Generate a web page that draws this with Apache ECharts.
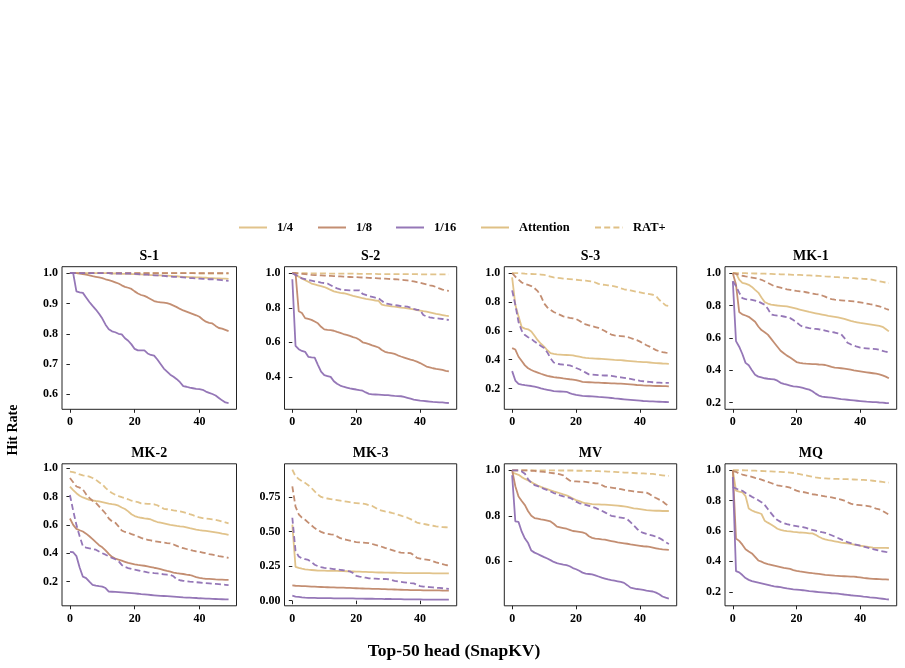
<!DOCTYPE html>
<html><head><meta charset="utf-8">
<script src="https://cdn.jsdelivr.net/npm/echarts@6/dist/echarts.min.js"></script>
<style>html,body{margin:0;padding:0;background:#fff}#c{width:905px;height:668px}</style>
</head><body><div id="c"></div>
<script>
// ---------- data ----------
const xValues = [0,1,2,3,4,5,6,7,8,9,10,11,12,13,14,15,16,17,18,19,20,21,22,23,24,25,26,27,28,29,30,31,32,33,34,35,36,37,38,39,40,41,42,43,44,45,46,47,48,49];
const panelTitles = ['S-1','S-2','S-3','MK-1','MK-2','MK-3','MV','MQ'];
const ratioNames = ['1/4','1/8','1/16'];
const methodNames = ['Attention','RAT+'];
const xTickLabels = [0,20,40];

// S-1
const s1_q_att = [1,1,1,1,1,1,1,1,1,1,1,1,1,0.999,0.999,0.999,0.998,0.998,0.998,0.997,0.997,0.996,0.996,0.995,0.995,0.994,0.994,0.993,0.993,0.992,0.992,0.991,0.990,0.990,0.989,0.988,0.988,0.987,0.987,0.986,0.986,0.985,0.985,0.984,0.984,0.983,0.983,0.982,0.982,0.981];
const s1_q_rat = [1,1,1,1,1,1,1,1,1,1,1,1,1,1,1,1,1,1,1,1,1,1,1,1,1,1,1,1,1,1,1,1,1,1,1,1,1,1,1,0.999,0.999,0.999,0.999,0.999,0.999,0.999,0.999,0.999,0.999,0.999];
const s1_e_att = [1,1,1,0.999,0.997,0.995,0.993,0.990,0.988,0.986,0.984,0.980,0.977,0.974,0.970,0.966,0.960,0.955,0.952,0.948,0.940,0.933,0.928,0.925,0.920,0.914,0.908,0.905,0.904,0.903,0.901,0.898,0.893,0.888,0.882,0.877,0.873,0.869,0.865,0.861,0.856,0.847,0.840,0.836,0.834,0.826,0.819,0.817,0.813,0.809];
const s1_e_rat = [1,1,1,1,1,1,1,1,1,1,1,1,1,1,1,1,1,1,1,1,1,1,1,1,1,1,1,1,1,1,1,1,1,1,1,1,1,1,1,1,1,1,1,1,1,1,1,1,1,1];
const s1_s_att = [1,1,0.94,0.937,0.935,0.92,0.905,0.892,0.88,0.866,0.85,0.83,0.815,0.808,0.805,0.80,0.798,0.785,0.777,0.765,0.75,0.745,0.745,0.745,0.735,0.73,0.728,0.715,0.70,0.685,0.675,0.665,0.658,0.65,0.64,0.627,0.625,0.622,0.62,0.618,0.617,0.615,0.609,0.605,0.601,0.596,0.588,0.58,0.573,0.571];
const s1_s_rat = [1,1,1,1,1,1,1,1,1,1,1,1,1,0.999,0.999,0.999,0.999,0.999,0.999,0.999,0.998,0.997,0.996,0.995,0.995,0.994,0.993,0.993,0.992,0.991,0.990,0.989,0.988,0.988,0.987,0.986,0.985,0.984,0.984,0.983,0.982,0.981,0.981,0.980,0.980,0.979,0.978,0.977,0.976,0.975];

// S-2
const s2_q_att = [1.0,0.99,0.98,0.97,0.96,0.95,0.94,0.935,0.93,0.925,0.92,0.912,0.903,0.895,0.89,0.886,0.884,0.88,0.874,0.869,0.865,0.86,0.855,0.851,0.848,0.845,0.842,0.84,0.818,0.814,0.811,0.808,0.806,0.804,0.801,0.799,0.796,0.793,0.79,0.787,0.784,0.78,0.777,0.773,0.769,0.765,0.762,0.758,0.754,0.752];
const s2_q_rat = [1,1,1,1,1,1,0.999,0.999,0.999,0.999,0.999,0.998,0.998,0.998,0.998,0.998,0.997,0.997,0.997,0.997,0.997,0.996,0.996,0.996,0.996,0.996,0.996,0.995,0.995,0.995,0.995,0.995,0.995,0.994,0.994,0.994,0.994,0.994,0.994,0.994,0.993,0.993,0.993,0.993,0.993,0.993,0.993,0.993,0.993,0.993];
const s2_e_att = [1.0,1.0,0.78,0.77,0.74,0.735,0.73,0.72,0.71,0.69,0.675,0.672,0.67,0.667,0.66,0.655,0.648,0.643,0.637,0.63,0.625,0.615,0.6,0.595,0.59,0.582,0.576,0.57,0.556,0.545,0.54,0.537,0.533,0.525,0.518,0.512,0.506,0.5,0.495,0.488,0.48,0.47,0.46,0.455,0.45,0.446,0.444,0.44,0.435,0.432];
const s2_e_rat = [1,1,0.998,0.996,0.994,0.992,0.99,0.989,0.988,0.987,0.986,0.985,0.984,0.983,0.982,0.981,0.98,0.979,0.978,0.977,0.977,0.976,0.975,0.974,0.973,0.972,0.971,0.97,0.969,0.968,0.967,0.966,0.965,0.964,0.962,0.96,0.958,0.955,0.952,0.948,0.944,0.94,0.935,0.93,0.926,0.92,0.912,0.905,0.9,0.898];
const s2_s_att = [0.965,0.58,0.56,0.55,0.545,0.516,0.513,0.512,0.47,0.43,0.41,0.405,0.4,0.375,0.36,0.35,0.343,0.338,0.333,0.33,0.327,0.323,0.32,0.31,0.302,0.299,0.298,0.297,0.296,0.295,0.294,0.292,0.29,0.289,0.288,0.284,0.279,0.274,0.269,0.266,0.263,0.261,0.259,0.257,0.255,0.254,0.253,0.252,0.25,0.249];
const s2_s_rat = [1.0,0.99,0.98,0.97,0.965,0.96,0.957,0.953,0.95,0.946,0.943,0.94,0.93,0.92,0.912,0.906,0.903,0.902,0.901,0.90,0.90,0.9,0.88,0.874,0.868,0.863,0.858,0.855,0.84,0.826,0.822,0.818,0.816,0.813,0.81,0.808,0.806,0.80,0.793,0.788,0.787,0.758,0.75,0.745,0.741,0.739,0.737,0.735,0.731,0.73];

// S-3
const s3_q_att = [0.97,0.78,0.7,0.625,0.615,0.61,0.595,0.565,0.535,0.51,0.49,0.465,0.445,0.44,0.437,0.435,0.433,0.432,0.431,0.43,0.425,0.42,0.415,0.412,0.41,0.409,0.407,0.406,0.405,0.404,0.402,0.4,0.398,0.397,0.396,0.394,0.392,0.39,0.388,0.386,0.385,0.383,0.382,0.38,0.378,0.376,0.375,0.373,0.372,0.37];
const s3_q_rat = [1.0,1.0,1.0,0.998,0.996,0.995,0.994,0.993,0.992,0.99,0.988,0.982,0.976,0.97,0.967,0.965,0.962,0.96,0.958,0.956,0.954,0.952,0.95,0.948,0.945,0.942,0.935,0.925,0.92,0.918,0.915,0.912,0.908,0.903,0.895,0.888,0.884,0.88,0.875,0.87,0.866,0.862,0.858,0.854,0.85,0.84,0.815,0.795,0.776,0.772];
const s3_e_att = [0.48,0.47,0.42,0.39,0.36,0.34,0.328,0.318,0.31,0.302,0.295,0.288,0.283,0.279,0.276,0.274,0.27,0.267,0.264,0.262,0.258,0.252,0.246,0.244,0.243,0.242,0.241,0.24,0.239,0.238,0.237,0.236,0.235,0.234,0.233,0.232,0.23,0.228,0.226,0.224,0.223,0.221,0.22,0.219,0.218,0.217,0.217,0.216,0.216,0.215];
const s3_e_rat = [1.0,0.975,0.955,0.935,0.925,0.918,0.91,0.895,0.875,0.84,0.79,0.762,0.745,0.73,0.72,0.71,0.7,0.695,0.69,0.686,0.682,0.67,0.655,0.644,0.638,0.632,0.626,0.62,0.61,0.598,0.585,0.574,0.568,0.565,0.563,0.561,0.557,0.55,0.542,0.535,0.525,0.512,0.5,0.49,0.478,0.466,0.458,0.452,0.448,0.447];
const s3_s_att = [0.32,0.255,0.232,0.227,0.223,0.22,0.217,0.212,0.207,0.2,0.195,0.191,0.187,0.182,0.18,0.179,0.178,0.177,0.168,0.16,0.155,0.152,0.149,0.147,0.146,0.145,0.143,0.141,0.14,0.138,0.136,0.134,0.131,0.129,0.127,0.125,0.123,0.121,0.119,0.117,0.115,0.113,0.112,0.111,0.11,0.109,0.108,0.107,0.106,0.105];
const s3_s_rat = [0.88,0.78,0.66,0.6,0.57,0.555,0.545,0.525,0.51,0.495,0.48,0.45,0.41,0.38,0.372,0.368,0.365,0.362,0.36,0.352,0.342,0.333,0.322,0.31,0.298,0.296,0.294,0.292,0.291,0.29,0.29,0.288,0.284,0.28,0.277,0.274,0.27,0.266,0.262,0.257,0.253,0.25,0.247,0.245,0.243,0.241,0.24,0.239,0.239,0.239];

// MK-1
const mk1_q_att = [1.0,1.0,0.96,0.94,0.935,0.928,0.915,0.897,0.88,0.85,0.822,0.812,0.805,0.803,0.8,0.798,0.796,0.794,0.79,0.785,0.78,0.775,0.77,0.765,0.76,0.756,0.752,0.748,0.744,0.74,0.736,0.733,0.73,0.726,0.722,0.717,0.711,0.705,0.7,0.696,0.692,0.689,0.686,0.683,0.68,0.677,0.674,0.668,0.655,0.64];
const mk1_q_rat = [1,1,1,1,1,0.999,0.999,0.998,0.998,0.997,0.997,0.996,0.995,0.994,0.994,0.993,0.993,0.992,0.991,0.99,0.99,0.989,0.988,0.987,0.986,0.985,0.984,0.983,0.982,0.98,0.979,0.978,0.976,0.975,0.973,0.972,0.971,0.97,0.969,0.967,0.966,0.965,0.964,0.962,0.958,0.954,0.95,0.946,0.942,0.938];
const mk1_e_att = [1.0,0.93,0.76,0.745,0.738,0.73,0.715,0.7,0.67,0.648,0.635,0.62,0.595,0.57,0.545,0.52,0.505,0.49,0.478,0.465,0.45,0.445,0.442,0.44,0.439,0.438,0.437,0.435,0.434,0.432,0.426,0.42,0.416,0.414,0.412,0.41,0.407,0.403,0.399,0.396,0.393,0.39,0.387,0.384,0.381,0.378,0.374,0.368,0.36,0.35];
const mk1_e_rat = [1.0,0.995,0.99,0.984,0.98,0.977,0.973,0.969,0.965,0.959,0.95,0.94,0.93,0.92,0.915,0.91,0.905,0.9,0.897,0.894,0.89,0.888,0.886,0.882,0.878,0.874,0.87,0.868,0.862,0.855,0.845,0.839,0.836,0.834,0.832,0.83,0.829,0.827,0.825,0.822,0.819,0.816,0.812,0.808,0.805,0.8,0.795,0.788,0.78,0.773];
const mk1_s_att = [0.95,0.58,0.545,0.5,0.445,0.43,0.4,0.372,0.36,0.355,0.35,0.347,0.345,0.343,0.335,0.322,0.315,0.31,0.305,0.3,0.298,0.295,0.29,0.285,0.28,0.27,0.255,0.243,0.237,0.234,0.232,0.23,0.227,0.224,0.221,0.219,0.217,0.215,0.213,0.211,0.209,0.207,0.205,0.204,0.203,0.202,0.2,0.199,0.197,0.196];
const mk1_s_rat = [0.95,0.92,0.88,0.845,0.84,0.837,0.835,0.83,0.825,0.815,0.805,0.78,0.745,0.74,0.738,0.736,0.732,0.728,0.722,0.71,0.695,0.68,0.668,0.664,0.66,0.657,0.655,0.653,0.65,0.645,0.64,0.636,0.633,0.628,0.623,0.6,0.57,0.56,0.552,0.545,0.54,0.537,0.535,0.533,0.532,0.53,0.526,0.52,0.514,0.509];

// MK-2
const mk2_q_att = [0.87,0.845,0.823,0.805,0.793,0.785,0.776,0.772,0.768,0.765,0.76,0.755,0.75,0.746,0.743,0.735,0.722,0.712,0.695,0.675,0.662,0.655,0.65,0.646,0.643,0.638,0.628,0.62,0.615,0.61,0.605,0.6,0.597,0.593,0.59,0.588,0.583,0.577,0.572,0.567,0.563,0.56,0.557,0.554,0.551,0.547,0.543,0.538,0.534,0.529];
const mk2_q_rat = [0.975,0.972,0.965,0.955,0.948,0.945,0.94,0.93,0.918,0.9,0.885,0.86,0.84,0.825,0.812,0.803,0.795,0.788,0.78,0.77,0.765,0.76,0.752,0.749,0.748,0.747,0.745,0.738,0.725,0.713,0.71,0.706,0.702,0.699,0.695,0.69,0.683,0.675,0.668,0.66,0.652,0.647,0.645,0.642,0.638,0.635,0.63,0.623,0.617,0.61];
const mk2_e_att = [0.645,0.6,0.572,0.562,0.553,0.538,0.52,0.5,0.478,0.457,0.442,0.42,0.395,0.375,0.363,0.355,0.348,0.34,0.332,0.327,0.322,0.318,0.315,0.312,0.308,0.303,0.298,0.294,0.288,0.282,0.276,0.271,0.264,0.26,0.257,0.254,0.25,0.247,0.24,0.232,0.227,0.223,0.22,0.219,0.218,0.216,0.215,0.214,0.213,0.212];
const mk2_e_rat = [0.93,0.9,0.87,0.862,0.85,0.815,0.79,0.77,0.755,0.73,0.705,0.68,0.645,0.625,0.615,0.59,0.56,0.55,0.545,0.535,0.528,0.518,0.508,0.5,0.495,0.49,0.485,0.482,0.478,0.475,0.472,0.47,0.462,0.452,0.442,0.436,0.43,0.424,0.418,0.413,0.41,0.405,0.4,0.394,0.39,0.385,0.38,0.376,0.372,0.368];
const mk2_s_att = [0.41,0.407,0.38,0.3,0.235,0.225,0.2,0.178,0.172,0.168,0.165,0.155,0.13,0.129,0.128,0.127,0.125,0.123,0.121,0.119,0.117,0.115,0.112,0.11,0.108,0.106,0.104,0.102,0.1,0.099,0.098,0.097,0.095,0.093,0.091,0.089,0.088,0.087,0.086,0.085,0.083,0.082,0.081,0.08,0.079,0.078,0.077,0.076,0.075,0.075];
const mk2_s_rat = [0.81,0.7,0.6,0.52,0.45,0.44,0.435,0.43,0.425,0.412,0.4,0.39,0.378,0.367,0.358,0.345,0.318,0.303,0.296,0.29,0.285,0.28,0.274,0.27,0.266,0.263,0.26,0.258,0.255,0.252,0.249,0.247,0.238,0.215,0.21,0.206,0.203,0.2,0.198,0.196,0.194,0.192,0.19,0.188,0.186,0.184,0.182,0.18,0.178,0.176];

// MK-3
const mk3_q_att = [0.55,0.245,0.238,0.232,0.227,0.224,0.222,0.22,0.218,0.217,0.217,0.216,0.216,0.215,0.215,0.214,0.214,0.213,0.212,0.211,0.21,0.21,0.209,0.208,0.207,0.206,0.205,0.204,0.204,0.203,0.203,0.202,0.202,0.201,0.201,0.2,0.2,0.2,0.2,0.2,0.199,0.199,0.199,0.199,0.198,0.198,0.198,0.198,0.198,0.198];
const mk3_q_rat = [0.948,0.9,0.88,0.865,0.852,0.835,0.815,0.79,0.767,0.75,0.743,0.739,0.735,0.731,0.728,0.724,0.72,0.716,0.712,0.708,0.706,0.704,0.702,0.698,0.69,0.685,0.672,0.658,0.652,0.646,0.641,0.636,0.63,0.623,0.615,0.607,0.6,0.59,0.578,0.565,0.56,0.556,0.551,0.546,0.542,0.538,0.535,0.532,0.531,0.53];
const mk3_e_att = [0.11,0.108,0.107,0.106,0.105,0.104,0.102,0.101,0.1,0.099,0.098,0.097,0.096,0.096,0.095,0.094,0.094,0.093,0.092,0.091,0.09,0.089,0.088,0.087,0.087,0.086,0.085,0.085,0.084,0.083,0.082,0.082,0.081,0.08,0.079,0.078,0.078,0.077,0.077,0.076,0.076,0.075,0.075,0.075,0.074,0.074,0.074,0.073,0.073,0.073];
const mk3_e_rat = [0.827,0.68,0.625,0.6,0.585,0.565,0.545,0.525,0.51,0.498,0.489,0.484,0.48,0.477,0.465,0.452,0.445,0.44,0.435,0.428,0.424,0.422,0.42,0.418,0.416,0.41,0.403,0.397,0.39,0.382,0.375,0.368,0.36,0.353,0.348,0.346,0.345,0.344,0.33,0.31,0.305,0.3,0.297,0.294,0.285,0.277,0.271,0.265,0.258,0.254];
const mk3_s_att = [0.036,0.03,0.027,0.024,0.022,0.021,0.02,0.02,0.019,0.019,0.018,0.018,0.018,0.017,0.017,0.017,0.017,0.016,0.016,0.016,0.015,0.015,0.015,0.014,0.014,0.014,0.013,0.013,0.013,0.012,0.012,0.012,0.011,0.011,0.011,0.01,0.01,0.01,0.009,0.009,0.009,0.008,0.008,0.008,0.008,0.007,0.007,0.007,0.007,0.007];
const mk3_s_rat = [0.6,0.36,0.32,0.305,0.3,0.295,0.28,0.26,0.25,0.243,0.238,0.235,0.232,0.229,0.226,0.223,0.22,0.216,0.212,0.2,0.18,0.174,0.17,0.166,0.162,0.16,0.159,0.158,0.157,0.157,0.155,0.15,0.143,0.139,0.136,0.133,0.13,0.127,0.125,0.115,0.105,0.102,0.1,0.098,0.096,0.094,0.092,0.09,0.087,0.085];

// MV
const mv_q_att = [0.99,0.985,0.98,0.97,0.962,0.955,0.948,0.94,0.933,0.927,0.922,0.917,0.912,0.907,0.903,0.899,0.894,0.89,0.883,0.876,0.869,0.864,0.859,0.855,0.853,0.851,0.85,0.85,0.849,0.849,0.848,0.847,0.846,0.845,0.843,0.841,0.839,0.836,0.833,0.831,0.829,0.827,0.825,0.824,0.823,0.822,0.822,0.821,0.821,0.821];
const mv_q_rat = [1,1,1,1,1,1,1,1,1,1,1,1,1,1,1,0.999,0.999,0.999,0.999,0.999,0.998,0.998,0.998,0.997,0.997,0.997,0.996,0.996,0.995,0.995,0.994,0.994,0.993,0.992,0.991,0.99,0.99,0.989,0.988,0.987,0.987,0.986,0.985,0.984,0.984,0.982,0.98,0.978,0.976,0.975];
const mv_e_att = [1.0,0.93,0.885,0.865,0.847,0.82,0.8,0.79,0.787,0.784,0.782,0.779,0.775,0.765,0.752,0.749,0.746,0.743,0.738,0.733,0.731,0.729,0.727,0.722,0.71,0.703,0.7,0.698,0.696,0.695,0.692,0.689,0.686,0.683,0.681,0.679,0.677,0.674,0.672,0.67,0.668,0.666,0.665,0.663,0.66,0.657,0.654,0.652,0.651,0.65];
const mv_e_rat = [1,1,1,1,1,0.999,0.998,0.997,0.995,0.994,0.993,0.991,0.989,0.987,0.985,0.982,0.978,0.965,0.955,0.952,0.951,0.95,0.95,0.949,0.947,0.945,0.943,0.942,0.935,0.928,0.926,0.924,0.922,0.92,0.917,0.914,0.911,0.909,0.907,0.905,0.904,0.903,0.902,0.895,0.885,0.878,0.871,0.864,0.852,0.843];
const mv_s_att = [0.978,0.775,0.773,0.73,0.7,0.68,0.647,0.638,0.632,0.625,0.618,0.612,0.605,0.597,0.592,0.588,0.585,0.583,0.578,0.57,0.565,0.558,0.55,0.546,0.544,0.542,0.538,0.533,0.528,0.524,0.52,0.517,0.515,0.512,0.509,0.505,0.495,0.484,0.481,0.478,0.476,0.474,0.471,0.469,0.467,0.462,0.455,0.445,0.44,0.436];
const mv_s_rat = [1.0,1.0,1.0,0.995,0.985,0.96,0.945,0.935,0.93,0.925,0.918,0.913,0.907,0.9,0.896,0.89,0.885,0.882,0.879,0.872,0.862,0.855,0.852,0.848,0.844,0.84,0.835,0.828,0.822,0.815,0.807,0.8,0.797,0.794,0.792,0.79,0.785,0.772,0.758,0.743,0.73,0.725,0.72,0.716,0.713,0.708,0.702,0.694,0.684,0.676];

// MQ
const mq_q_att = [1.0,0.866,0.86,0.855,0.83,0.748,0.735,0.726,0.72,0.712,0.668,0.655,0.643,0.63,0.615,0.607,0.602,0.599,0.597,0.594,0.592,0.59,0.589,0.587,0.585,0.584,0.575,0.562,0.552,0.545,0.54,0.536,0.532,0.528,0.524,0.521,0.518,0.515,0.511,0.507,0.503,0.5,0.497,0.494,0.491,0.489,0.489,0.489,0.489,0.488];
const mq_q_rat = [1,1,1,1,0.999,0.999,0.998,0.997,0.996,0.995,0.994,0.993,0.992,0.991,0.99,0.989,0.988,0.987,0.985,0.982,0.978,0.974,0.97,0.966,0.962,0.957,0.953,0.95,0.947,0.946,0.945,0.944,0.943,0.943,0.942,0.941,0.941,0.94,0.939,0.938,0.937,0.936,0.935,0.933,0.931,0.929,0.926,0.923,0.92,0.919];
const mq_e_att = [1.0,0.55,0.535,0.51,0.48,0.465,0.452,0.43,0.406,0.398,0.388,0.382,0.377,0.372,0.367,0.362,0.357,0.354,0.35,0.343,0.338,0.334,0.331,0.328,0.325,0.322,0.32,0.317,0.314,0.311,0.31,0.308,0.306,0.305,0.303,0.302,0.301,0.3,0.299,0.297,0.294,0.291,0.289,0.287,0.285,0.284,0.283,0.282,0.281,0.28];
const mq_e_rat = [0.995,0.99,0.978,0.972,0.967,0.963,0.957,0.95,0.945,0.938,0.93,0.923,0.916,0.908,0.901,0.897,0.894,0.89,0.885,0.875,0.866,0.86,0.857,0.852,0.847,0.842,0.839,0.835,0.832,0.828,0.825,0.821,0.816,0.811,0.807,0.8,0.79,0.78,0.774,0.772,0.77,0.768,0.766,0.762,0.755,0.747,0.742,0.733,0.72,0.708];
const mq_s_att = [0.956,0.336,0.328,0.31,0.29,0.278,0.27,0.265,0.26,0.255,0.25,0.245,0.24,0.236,0.233,0.23,0.226,0.222,0.219,0.216,0.214,0.212,0.21,0.207,0.204,0.202,0.2,0.198,0.196,0.194,0.192,0.19,0.189,0.187,0.185,0.182,0.18,0.177,0.175,0.173,0.171,0.168,0.166,0.163,0.161,0.159,0.157,0.154,0.151,0.149];
const mq_s_rat = [0.89,0.88,0.87,0.865,0.85,0.838,0.825,0.815,0.803,0.79,0.772,0.745,0.718,0.692,0.672,0.66,0.652,0.645,0.64,0.636,0.632,0.628,0.625,0.62,0.613,0.607,0.602,0.597,0.592,0.588,0.58,0.572,0.563,0.554,0.545,0.535,0.527,0.52,0.513,0.508,0.503,0.498,0.492,0.486,0.481,0.476,0.47,0.466,0.462,0.459];

// y tick labels per panel
const yTicks = [
  [0.6,0.7,0.8,0.9,1.0],
  [0.4,0.6,0.8,1.0],
  [0.2,0.4,0.6,0.8,1.0],
  [0.2,0.4,0.6,0.8,1.0],
  [0.2,0.4,0.6,0.8,1.0],
  [0.00,0.25,0.50,0.75],
  [0.6,0.8,1.0],
  [0.2,0.4,0.6,0.8,1.0]
];

// ---------- assembly ----------
const attention = [
  [s1_q_att,s1_e_att,s1_s_att],[s2_q_att,s2_e_att,s2_s_att],[s3_q_att,s3_e_att,s3_s_att],[mk1_q_att,mk1_e_att,mk1_s_att],
  [mk2_q_att,mk2_e_att,mk2_s_att],[mk3_q_att,mk3_e_att,mk3_s_att],[mv_q_att,mv_e_att,mv_s_att],[mq_q_att,mq_e_att,mq_s_att]];
const ratplus = [
  [s1_q_rat,s1_e_rat,s1_s_rat],[s2_q_rat,s2_e_rat,s2_s_rat],[s3_q_rat,s3_e_rat,s3_s_rat],[mk1_q_rat,mk1_e_rat,mk1_s_rat],
  [mk2_q_rat,mk2_e_rat,mk2_s_rat],[mk3_q_rat,mk3_e_rat,mk3_s_rat],[mv_q_rat,mv_e_rat,mv_s_rat],[mq_q_rat,mq_e_rat,mq_s_rat]];

// layout (pixels) and styling
const colLeft = [62, 284.5, 504.3, 725];
const colWidth = [174.5, 172.2, 172.4, 171.7];
const rowTop = [266.7, 463.8];
const rowHeight = [142.6, 142];
const yRange = [[0.5505,1.0215],[0.2125,1.0375],[0.0555,1.0445],[0.158,1.040],[0.03,1.03],[-0.037,0.99],[0.4042,1.0285],[0.1075,1.0425]];
const colors = ['#DFC085','#C0886A','#8F70B3'];
const FONT = '"Liberation Serif","Times New Roman",serif';
const dash = [6, 3.2];

const grids = [], xAxes = [], yAxes = [], series = [], graphics = [];
for (let p = 0; p < 8; p++) {
  const r = Math.floor(p / 4), c = p % 4;
  grids.push({left: colLeft[c], top: rowTop[r], width: colWidth[c], height: rowHeight[r],
    show: true, borderColor: '#222', borderWidth: 1, backgroundColor: 'transparent', containLabel: false});
  xAxes.push({type: 'value', gridIndex: p, min: -2.45, max: 51.45,
    axisLine: {show: false}, splitLine: {show: false},
    axisTick: {show: true, length: 3.5, inside: false, lineStyle: {color: '#222', width: 1}, customValues: xTickLabels},
    axisLabel: {customValues: xTickLabels, margin: 7, color: '#000', fontFamily: FONT, fontWeight: 'bold', fontSize: 12}});
  const dec = p === 5 ? 2 : 1;
  yAxes.push({type: 'value', gridIndex: p, min: yRange[p][0], max: yRange[p][1],
    axisLine: {show: false}, splitLine: {show: false},
    axisTick: {show: true, length: 3.5, lineStyle: {color: '#222', width: 1}, customValues: yTicks[p]},
    axisLabel: {customValues: yTicks[p], margin: 4, color: '#000', fontFamily: FONT, fontWeight: 'bold', fontSize: 12,
      formatter: v => Number(v).toFixed(dec)}});
  graphics.push({type: 'text', x: colLeft[c] + colWidth[c] / 2, y: rowTop[r] - 10,
    style: {text: panelTitles[p], fontFamily: FONT, fontWeight: 'bold', fontSize: 14, fill: '#000', textAlign: 'center', textVerticalAlign: 'middle'}});
  for (let k = 0; k < 3; k++) {
    series.push({type: 'line', name: ratioNames[k], xAxisIndex: p, yAxisIndex: p,
      data: xValues.map((x, i) => [x, attention[p][k][i]]), symbol: 'none', showSymbol: false,
      lineStyle: {color: colors[k], width: 1.8, type: 'solid', opacity: 0.95}, itemStyle: {color: colors[k]},
      z: 3, animation: false});
    series.push({type: 'line', name: ratioNames[k] + ' ' + methodNames[1], xAxisIndex: p, yAxisIndex: p,
      data: xValues.map((x, i) => [x, ratplus[p][k][i]]), symbol: 'none', showSymbol: false,
      lineStyle: {color: colors[k], width: 1.8, type: dash, opacity: 0.95}, itemStyle: {color: colors[k]},
      z: 3, animation: false});
  }
}
// legend-only series for method styles
series.push({type: 'line', name: methodNames[0], xAxisIndex: 0, yAxisIndex: 0, data: [], symbol: 'none',
  lineStyle: {color: colors[0], width: 1.8, type: 'solid'}, itemStyle: {color: colors[0]}});
series.push({type: 'line', name: methodNames[1], xAxisIndex: 0, yAxisIndex: 0, data: [], symbol: 'none',
  lineStyle: {color: colors[0], width: 1.8, type: dash}, itemStyle: {color: colors[0]}});

const legendNames = ['1/4','1/8','1/16','Attention','RAT+'];
const legendLeft = [238, 317, 395, 480, 594];
const legends = legendNames.map((n, i) => ({
  data: [n], left: legendLeft[i], top: 221, itemWidth: 28, itemHeight: 14, padding: 0,
  selectedMode: false, itemStyle: {opacity: 0},
  textStyle: {fontFamily: FONT, fontWeight: 'bold', fontSize: 12.5, color: '#000', padding: [0, 0, 0, 5]}
}));

graphics.push({type: 'text', x: 454, y: 651,
  style: {text: 'Top-50 head (SnapKV)', fontFamily: FONT, fontWeight: 'bold', fontSize: 17.5, fill: '#000', textAlign: 'center', textVerticalAlign: 'middle'}});
graphics.push({type: 'text', x: 13, y: 430, rotation: Math.PI / 2,
  style: {text: 'Hit Rate', fontFamily: FONT, fontWeight: 'bold', fontSize: 14, fill: '#000', textAlign: 'center', textVerticalAlign: 'middle'}});

const chart = echarts.init(document.getElementById('c'), null, {renderer: 'canvas'});
chart.setOption({
  animation: false,
  backgroundColor: '#fff',
  grid: grids, xAxis: xAxes, yAxis: yAxes, series: series,
  legend: legends, graphic: graphics, tooltip: {show: false}
});
</script>
</body></html>
